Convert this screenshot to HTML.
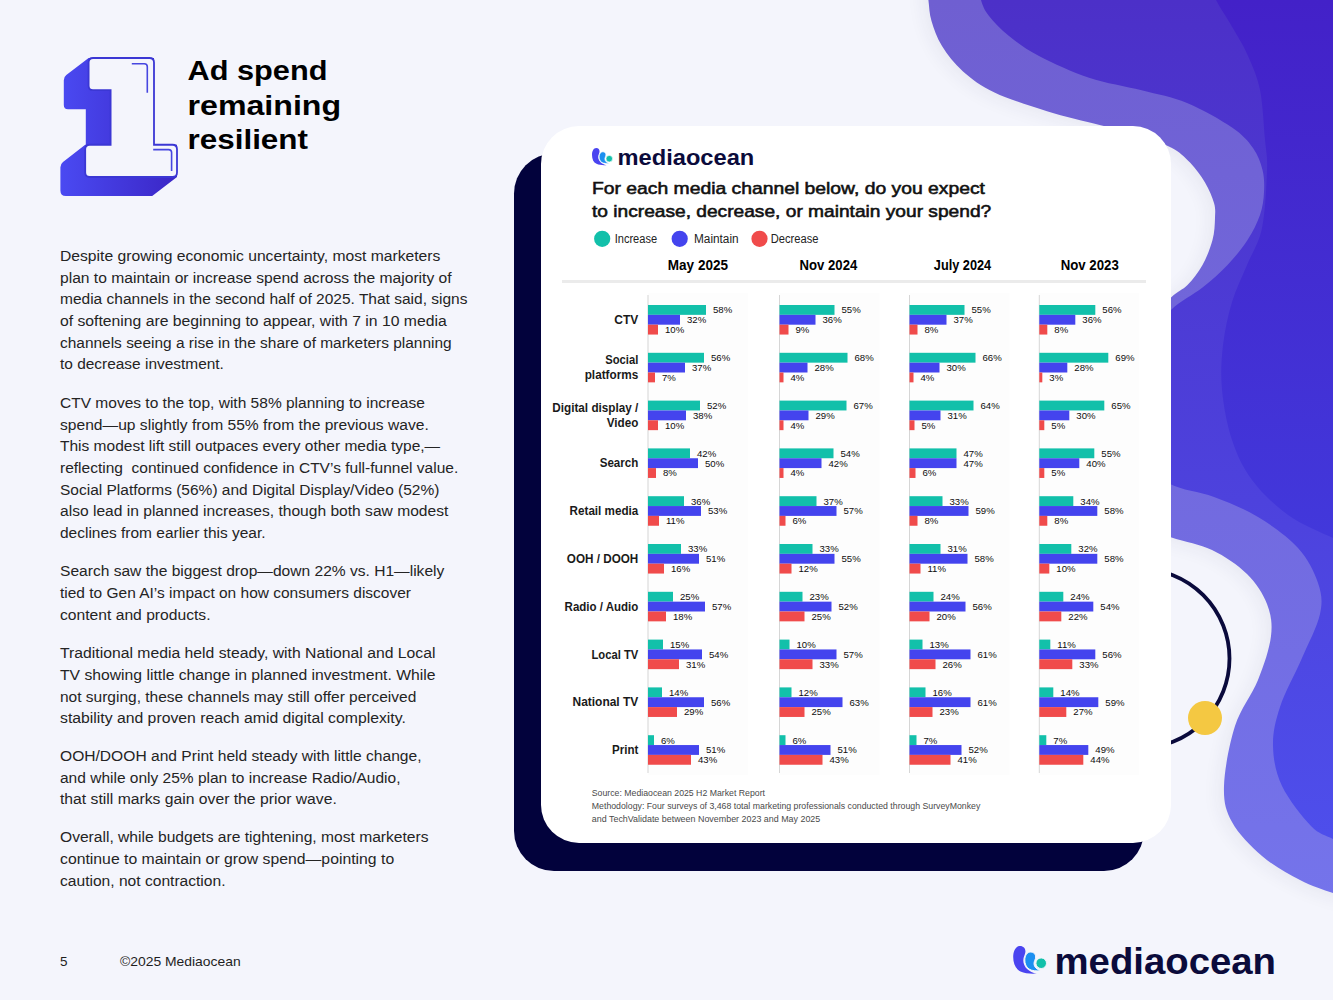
<!DOCTYPE html>
<html><head><meta charset="utf-8"><title>Ad spend remaining resilient</title>
<style>
html,body{margin:0;padding:0;}
body{width:1333px;height:1000px;overflow:hidden;background:#f4f5fc;}
svg{display:block;font-family:"Liberation Sans", sans-serif;}
</style></head><body>
<svg width="1333" height="1000" viewBox="0 0 1333 1000">
<rect width="1333" height="1000" fill="#f4f5fc"/>

<defs>
<linearGradient id="gL" x1="0" y1="0" x2="0" y2="1000" gradientUnits="userSpaceOnUse">
<stop offset="0" stop-color="#6f5fd1"/><stop offset="1" stop-color="#7576ee"/></linearGradient>
<linearGradient id="gM" x1="0" y1="0" x2="0" y2="1000" gradientUnits="userSpaceOnUse">
<stop offset="0" stop-color="#4c30c8"/><stop offset="1" stop-color="#4e54f2"/></linearGradient>
<linearGradient id="gI" x1="0" y1="0" x2="0" y2="560" gradientUnits="userSpaceOnUse">
<stop offset="0" stop-color="#4321c8"/><stop offset="1" stop-color="#4239dc"/></linearGradient>
<linearGradient id="g1" x1="60" y1="0" x2="177" y2="0" gradientUnits="userSpaceOnUse">
<stop offset="0" stop-color="#4a4af2"/><stop offset="1" stop-color="#3b26c6"/></linearGradient>
<filter id="blobsh" x="-20%" y="-20%" width="140%" height="140%"><feGaussianBlur stdDeviation="9"/></filter>
</defs>
<path d="M926.0,-20.0 C926.4,-16.7 927.5,-6.8 928.4,0.0 C929.3,6.8 929.2,13.3 931.5,21.0 C933.8,28.7 936.8,37.6 942.0,46.0 C947.2,54.4 954.2,63.7 963.0,71.4 C971.8,79.1 980.5,85.8 994.5,92.4 C1008.5,99.1 1029.5,105.9 1047.0,111.3 C1064.5,116.7 1084.9,121.4 1099.6,125.0 C1114.3,128.6 1123.1,129.2 1135.0,133.0 C1146.9,136.8 1161.8,142.6 1171.0,147.5 C1180.2,152.4 1184.3,156.7 1190.0,162.5 C1195.7,168.3 1201.0,175.8 1205.0,182.5 C1209.0,189.2 1212.3,197.1 1214.0,203.0 C1215.7,208.9 1215.2,211.8 1215.0,218.0 C1214.8,224.2 1214.6,232.2 1212.5,240.0 C1210.4,247.8 1206.7,257.5 1202.5,265.0 C1198.3,272.5 1192.8,279.6 1187.5,285.0 C1182.2,290.4 1178.9,290.0 1171.0,297.5 C1163.1,305.0 1149.8,309.6 1140.0,330.0 C1130.2,350.4 1117.0,389.2 1112.0,420.0 C1107.0,450.8 1100.3,495.5 1110.0,515.0 C1119.7,534.5 1153.0,531.2 1170.0,537.0 C1187.0,542.8 1199.2,543.8 1212.0,550.0 C1224.8,556.2 1237.8,565.0 1247.0,574.0 C1256.2,583.0 1263.0,593.7 1267.0,604.0 C1271.0,614.3 1272.5,623.3 1271.0,636.0 C1269.5,648.7 1264.0,665.0 1258.0,680.0 C1252.0,695.0 1240.7,708.3 1235.0,726.0 C1229.3,743.7 1224.5,770.0 1224.0,786.0 C1223.5,802.0 1225.7,810.3 1232.0,822.0 C1238.3,833.7 1250.7,846.3 1262.0,856.0 C1273.3,865.7 1288.2,873.8 1300.0,880.0 C1311.8,886.2 1323.0,889.8 1333.0,893.0 C1343.0,896.2 1355.5,898.0 1360.0,899.0 L1400,899 L1400,-30 Z" fill="#202050" opacity="0.06" filter="url(#blobsh)" transform="translate(-5,3)"/>
<path d="M926.0,-20.0 C926.4,-16.7 927.5,-6.8 928.4,0.0 C929.3,6.8 929.2,13.3 931.5,21.0 C933.8,28.7 936.8,37.6 942.0,46.0 C947.2,54.4 954.2,63.7 963.0,71.4 C971.8,79.1 980.5,85.8 994.5,92.4 C1008.5,99.1 1029.5,105.9 1047.0,111.3 C1064.5,116.7 1084.9,121.4 1099.6,125.0 C1114.3,128.6 1123.1,129.2 1135.0,133.0 C1146.9,136.8 1161.8,142.6 1171.0,147.5 C1180.2,152.4 1184.3,156.7 1190.0,162.5 C1195.7,168.3 1201.0,175.8 1205.0,182.5 C1209.0,189.2 1212.3,197.1 1214.0,203.0 C1215.7,208.9 1215.2,211.8 1215.0,218.0 C1214.8,224.2 1214.6,232.2 1212.5,240.0 C1210.4,247.8 1206.7,257.5 1202.5,265.0 C1198.3,272.5 1192.8,279.6 1187.5,285.0 C1182.2,290.4 1178.9,290.0 1171.0,297.5 C1163.1,305.0 1149.8,309.6 1140.0,330.0 C1130.2,350.4 1117.0,389.2 1112.0,420.0 C1107.0,450.8 1100.3,495.5 1110.0,515.0 C1119.7,534.5 1153.0,531.2 1170.0,537.0 C1187.0,542.8 1199.2,543.8 1212.0,550.0 C1224.8,556.2 1237.8,565.0 1247.0,574.0 C1256.2,583.0 1263.0,593.7 1267.0,604.0 C1271.0,614.3 1272.5,623.3 1271.0,636.0 C1269.5,648.7 1264.0,665.0 1258.0,680.0 C1252.0,695.0 1240.7,708.3 1235.0,726.0 C1229.3,743.7 1224.5,770.0 1224.0,786.0 C1223.5,802.0 1225.7,810.3 1232.0,822.0 C1238.3,833.7 1250.7,846.3 1262.0,856.0 C1273.3,865.7 1288.2,873.8 1300.0,880.0 C1311.8,886.2 1323.0,889.8 1333.0,893.0 C1343.0,896.2 1355.5,898.0 1360.0,899.0 L1400,899 L1400,-30 Z" fill="url(#gL)"/>
<path d="M978.0,-20.0 C978.5,-16.7 979.2,-6.0 981.0,0.0 C982.8,6.0 984.3,10.0 989.0,16.0 C993.7,22.0 1000.7,29.3 1009.0,36.0 C1017.3,42.7 1025.7,49.0 1039.0,56.0 C1052.3,63.0 1071.9,72.0 1089.0,77.7 C1106.1,83.4 1125.3,86.1 1141.6,90.3 C1157.9,94.5 1171.9,96.8 1187.0,103.0 C1202.1,109.2 1221.0,120.0 1232.0,127.5 C1243.0,135.0 1247.9,140.9 1253.0,148.0 C1258.1,155.1 1260.7,162.7 1262.5,170.0 C1264.3,177.3 1264.4,184.5 1264.0,192.0 C1263.6,199.5 1262.8,207.0 1260.0,215.0 C1257.2,223.0 1252.9,231.7 1247.5,240.0 C1242.1,248.3 1235.0,257.1 1227.5,265.0 C1220.0,272.9 1211.9,280.0 1202.5,287.5 C1193.1,295.0 1180.6,300.4 1171.0,310.0 C1161.4,319.6 1151.0,328.3 1145.0,345.0 C1139.0,361.7 1135.0,390.8 1135.0,410.0 C1135.0,429.2 1139.2,447.7 1145.0,460.0 C1150.8,472.3 1158.5,477.8 1170.0,484.0 C1181.5,490.2 1199.3,491.5 1214.0,497.0 C1228.7,502.5 1244.0,508.5 1258.0,517.0 C1272.0,525.5 1288.0,537.0 1298.0,548.0 C1308.0,559.0 1314.3,572.0 1318.0,583.0 C1321.7,594.0 1322.7,601.5 1320.0,614.0 C1317.3,626.5 1308.7,642.5 1302.0,658.0 C1295.3,673.5 1284.8,692.3 1280.0,707.0 C1275.2,721.7 1272.7,732.8 1273.0,746.0 C1273.3,759.2 1275.7,772.7 1282.0,786.0 C1288.3,799.3 1302.5,817.2 1311.0,826.0 C1319.5,834.8 1324.8,834.7 1333.0,839.0 C1341.2,843.3 1355.5,849.8 1360.0,852.0 L1400,852 L1400,-30 Z" fill="url(#gM)"/>
<path d="M1208.0,-20.0 C1209.3,-16.7 1211.7,-8.3 1216.0,0.0 C1220.3,8.3 1228.7,20.7 1234.0,30.0 C1239.3,39.3 1243.7,46.0 1248.0,56.0 C1252.3,66.0 1257.2,76.0 1260.0,90.0 C1262.8,104.0 1263.8,126.7 1265.0,140.0 C1266.2,153.3 1267.5,155.3 1267.0,170.0 C1266.5,184.7 1265.3,212.2 1262.0,228.0 C1258.7,243.8 1252.0,252.7 1247.0,265.0 C1242.0,277.3 1236.0,288.7 1232.0,302.0 C1228.0,315.3 1224.7,330.3 1223.0,345.0 C1221.3,359.7 1220.5,374.2 1222.0,390.0 C1223.5,405.8 1227.0,425.0 1232.0,440.0 C1237.0,455.0 1242.7,467.5 1252.0,480.0 C1261.3,492.5 1274.5,505.3 1288.0,515.0 C1301.5,524.7 1321.0,532.5 1333.0,538.0 C1345.0,543.5 1355.5,546.3 1360.0,548.0 L1400,548 L1400,-30 Z" fill="url(#gI)"/>


<circle cx="1140" cy="658.5" r="89.5" fill="none" stroke="#0a0a3c" stroke-width="3.8"/>
<circle cx="1205" cy="718" r="17" fill="#f4c842"/>


<rect x="514" y="153.5" width="630" height="717.5" rx="40" fill="#02023c"/>
<rect x="541" y="126" width="630" height="717" rx="38" fill="#ffffff"/>
<g transform="translate(588.8,144.4) scale(0.617)">
<path d="M28.8,33.6 C23,34 17,33.6 12.5,31.5 C7.5,29 5.2,23.5 5.2,17 C5.2,10.5 8,6 12,6 C15.6,6 17.7,8.6 17.4,12 C17.1,14.8 15.3,16.8 15.3,20.5 C15.3,27 21,32.2 28.8,33.6 Z" fill="#4a44f0"/>
<path d="M33.2,30.6 C29,31.2 24,31 21,29 C18,27 16.8,23.5 16.8,20 C16.8,15.5 19.3,12 22.8,12 C25.7,12 27.8,14.3 27.7,17 C27.6,19.5 26,21 26,23.5 C26,27 29,29.8 33.2,30.6 Z" fill="#1c8ff0" stroke="#ffffff" stroke-width="1"/>
<circle cx="33.2" cy="23.2" r="5.3" fill="#12c0aa" stroke="#ffffff" stroke-width="1"/>
</g><text x="617.5" y="164.6" font-size="22.5" font-weight="bold" fill="#0b0b3b" textLength="136.8" lengthAdjust="spacingAndGlyphs">mediaocean</text>
<text x="592" y="193.8" font-size="16.4" fill="#111" textLength="393.0" lengthAdjust="spacingAndGlyphs" stroke="#111" stroke-width="0.55">For each media channel below, do you expect</text>
<text x="592" y="216.8" font-size="16.4" fill="#111" textLength="399.2" lengthAdjust="spacingAndGlyphs" stroke="#111" stroke-width="0.55">to increase, decrease, or maintain your spend?</text>
<circle cx="602.2" cy="238.8" r="8.1" fill="#12c0aa"/><circle cx="679.7" cy="238.8" r="8.1" fill="#4444ee"/><circle cx="759.5" cy="238.8" r="8.1" fill="#f04b4b"/><text x="614.7" y="243.1" font-size="12" fill="#222" textLength="42.4" lengthAdjust="spacingAndGlyphs">Increase</text>
<text x="694" y="243.1" font-size="12" fill="#222" textLength="44.6" lengthAdjust="spacingAndGlyphs">Maintain</text>
<text x="770.8" y="243.1" font-size="12" fill="#222" textLength="47.7" lengthAdjust="spacingAndGlyphs">Decrease</text>
<text x="667.8" y="270" font-size="13.8" font-weight="bold" fill="#000" textLength="60.2" lengthAdjust="spacingAndGlyphs">May 2025</text>
<text x="799.6" y="270" font-size="13.8" font-weight="bold" fill="#000" textLength="57.7" lengthAdjust="spacingAndGlyphs">Nov 2024</text>
<text x="933.8" y="270" font-size="13.8" font-weight="bold" fill="#000" textLength="57.4" lengthAdjust="spacingAndGlyphs">July 2024</text>
<text x="1060.7" y="270" font-size="13.8" font-weight="bold" fill="#000" textLength="58.1" lengthAdjust="spacingAndGlyphs">Nov 2023</text>
<rect x="562" y="280" width="584" height="3" fill="#ebebeb"/>

<rect x="648" y="293" width="100" height="482" fill="#fdfdfd"/>
<rect x="779.5" y="293" width="100" height="482" fill="#fdfdfd"/>
<rect x="909.5" y="293" width="100" height="482" fill="#fdfdfd"/>
<rect x="1039.3" y="293" width="100" height="482" fill="#fdfdfd"/>
<rect x="647.5" y="295" width="1" height="478" fill="#d6d6d6"/>
<rect x="648" y="305.00" width="58" height="9.85" fill="#12c0aa"/><text x="713" y="313.3" font-size="9.6" fill="#0d0d0d">58%</text>
<rect x="648" y="314.85" width="32" height="9.85" fill="#4444ee"/><text x="687" y="323.2" font-size="9.6" fill="#0d0d0d">32%</text>
<rect x="648" y="324.70" width="10" height="9.85" fill="#f04b4b"/><text x="665" y="333.0" font-size="9.6" fill="#0d0d0d">10%</text>
<rect x="648" y="352.80" width="56" height="9.85" fill="#12c0aa"/><text x="711" y="361.1" font-size="9.6" fill="#0d0d0d">56%</text>
<rect x="648" y="362.65" width="37" height="9.85" fill="#4444ee"/><text x="692" y="371.0" font-size="9.6" fill="#0d0d0d">37%</text>
<rect x="648" y="372.50" width="7" height="9.85" fill="#f04b4b"/><text x="662" y="380.8" font-size="9.6" fill="#0d0d0d">7%</text>
<rect x="648" y="400.60" width="52" height="9.85" fill="#12c0aa"/><text x="707" y="408.9" font-size="9.6" fill="#0d0d0d">52%</text>
<rect x="648" y="410.45" width="38" height="9.85" fill="#4444ee"/><text x="693" y="418.8" font-size="9.6" fill="#0d0d0d">38%</text>
<rect x="648" y="420.30" width="10" height="9.85" fill="#f04b4b"/><text x="665" y="428.6" font-size="9.6" fill="#0d0d0d">10%</text>
<rect x="648" y="448.40" width="42" height="9.85" fill="#12c0aa"/><text x="697" y="456.7" font-size="9.6" fill="#0d0d0d">42%</text>
<rect x="648" y="458.25" width="50" height="9.85" fill="#4444ee"/><text x="705" y="466.6" font-size="9.6" fill="#0d0d0d">50%</text>
<rect x="648" y="468.10" width="8" height="9.85" fill="#f04b4b"/><text x="663" y="476.4" font-size="9.6" fill="#0d0d0d">8%</text>
<rect x="648" y="496.20" width="36" height="9.85" fill="#12c0aa"/><text x="691" y="504.5" font-size="9.6" fill="#0d0d0d">36%</text>
<rect x="648" y="506.05" width="53" height="9.85" fill="#4444ee"/><text x="708" y="514.4" font-size="9.6" fill="#0d0d0d">53%</text>
<rect x="648" y="515.90" width="11" height="9.85" fill="#f04b4b"/><text x="666" y="524.2" font-size="9.6" fill="#0d0d0d">11%</text>
<rect x="648" y="544.00" width="33" height="9.85" fill="#12c0aa"/><text x="688" y="552.3" font-size="9.6" fill="#0d0d0d">33%</text>
<rect x="648" y="553.85" width="51" height="9.85" fill="#4444ee"/><text x="706" y="562.1" font-size="9.6" fill="#0d0d0d">51%</text>
<rect x="648" y="563.70" width="16" height="9.85" fill="#f04b4b"/><text x="671" y="572.0" font-size="9.6" fill="#0d0d0d">16%</text>
<rect x="648" y="591.80" width="25" height="9.85" fill="#12c0aa"/><text x="680" y="600.1" font-size="9.6" fill="#0d0d0d">25%</text>
<rect x="648" y="601.65" width="57" height="9.85" fill="#4444ee"/><text x="712" y="609.9" font-size="9.6" fill="#0d0d0d">57%</text>
<rect x="648" y="611.50" width="18" height="9.85" fill="#f04b4b"/><text x="673" y="619.8" font-size="9.6" fill="#0d0d0d">18%</text>
<rect x="648" y="639.60" width="15" height="9.85" fill="#12c0aa"/><text x="670" y="647.9" font-size="9.6" fill="#0d0d0d">15%</text>
<rect x="648" y="649.45" width="54" height="9.85" fill="#4444ee"/><text x="709" y="657.7" font-size="9.6" fill="#0d0d0d">54%</text>
<rect x="648" y="659.30" width="31" height="9.85" fill="#f04b4b"/><text x="686" y="667.6" font-size="9.6" fill="#0d0d0d">31%</text>
<rect x="648" y="687.40" width="14" height="9.85" fill="#12c0aa"/><text x="669" y="695.7" font-size="9.6" fill="#0d0d0d">14%</text>
<rect x="648" y="697.25" width="56" height="9.85" fill="#4444ee"/><text x="711" y="705.5" font-size="9.6" fill="#0d0d0d">56%</text>
<rect x="648" y="707.10" width="29" height="9.85" fill="#f04b4b"/><text x="684" y="715.4" font-size="9.6" fill="#0d0d0d">29%</text>
<rect x="648" y="735.20" width="6" height="9.85" fill="#12c0aa"/><text x="661" y="743.5" font-size="9.6" fill="#0d0d0d">6%</text>
<rect x="648" y="745.05" width="51" height="9.85" fill="#4444ee"/><text x="706" y="753.4" font-size="9.6" fill="#0d0d0d">51%</text>
<rect x="648" y="754.90" width="43" height="9.85" fill="#f04b4b"/><text x="698" y="763.2" font-size="9.6" fill="#0d0d0d">43%</text>
<rect x="779.0" y="295" width="1" height="478" fill="#d6d6d6"/>
<rect x="779.5" y="305.00" width="55" height="9.85" fill="#12c0aa"/><text x="841.5" y="313.3" font-size="9.6" fill="#0d0d0d">55%</text>
<rect x="779.5" y="314.85" width="36" height="9.85" fill="#4444ee"/><text x="822.5" y="323.2" font-size="9.6" fill="#0d0d0d">36%</text>
<rect x="779.5" y="324.70" width="9" height="9.85" fill="#f04b4b"/><text x="795.5" y="333.0" font-size="9.6" fill="#0d0d0d">9%</text>
<rect x="779.5" y="352.80" width="68" height="9.85" fill="#12c0aa"/><text x="854.5" y="361.1" font-size="9.6" fill="#0d0d0d">68%</text>
<rect x="779.5" y="362.65" width="28" height="9.85" fill="#4444ee"/><text x="814.5" y="371.0" font-size="9.6" fill="#0d0d0d">28%</text>
<rect x="779.5" y="372.50" width="4" height="9.85" fill="#f04b4b"/><text x="790.5" y="380.8" font-size="9.6" fill="#0d0d0d">4%</text>
<rect x="779.5" y="400.60" width="67" height="9.85" fill="#12c0aa"/><text x="853.5" y="408.9" font-size="9.6" fill="#0d0d0d">67%</text>
<rect x="779.5" y="410.45" width="29" height="9.85" fill="#4444ee"/><text x="815.5" y="418.8" font-size="9.6" fill="#0d0d0d">29%</text>
<rect x="779.5" y="420.30" width="4" height="9.85" fill="#f04b4b"/><text x="790.5" y="428.6" font-size="9.6" fill="#0d0d0d">4%</text>
<rect x="779.5" y="448.40" width="54" height="9.85" fill="#12c0aa"/><text x="840.5" y="456.7" font-size="9.6" fill="#0d0d0d">54%</text>
<rect x="779.5" y="458.25" width="42" height="9.85" fill="#4444ee"/><text x="828.5" y="466.6" font-size="9.6" fill="#0d0d0d">42%</text>
<rect x="779.5" y="468.10" width="4" height="9.85" fill="#f04b4b"/><text x="790.5" y="476.4" font-size="9.6" fill="#0d0d0d">4%</text>
<rect x="779.5" y="496.20" width="37" height="9.85" fill="#12c0aa"/><text x="823.5" y="504.5" font-size="9.6" fill="#0d0d0d">37%</text>
<rect x="779.5" y="506.05" width="57" height="9.85" fill="#4444ee"/><text x="843.5" y="514.4" font-size="9.6" fill="#0d0d0d">57%</text>
<rect x="779.5" y="515.90" width="6" height="9.85" fill="#f04b4b"/><text x="792.5" y="524.2" font-size="9.6" fill="#0d0d0d">6%</text>
<rect x="779.5" y="544.00" width="33" height="9.85" fill="#12c0aa"/><text x="819.5" y="552.3" font-size="9.6" fill="#0d0d0d">33%</text>
<rect x="779.5" y="553.85" width="55" height="9.85" fill="#4444ee"/><text x="841.5" y="562.1" font-size="9.6" fill="#0d0d0d">55%</text>
<rect x="779.5" y="563.70" width="12" height="9.85" fill="#f04b4b"/><text x="798.5" y="572.0" font-size="9.6" fill="#0d0d0d">12%</text>
<rect x="779.5" y="591.80" width="23" height="9.85" fill="#12c0aa"/><text x="809.5" y="600.1" font-size="9.6" fill="#0d0d0d">23%</text>
<rect x="779.5" y="601.65" width="52" height="9.85" fill="#4444ee"/><text x="838.5" y="609.9" font-size="9.6" fill="#0d0d0d">52%</text>
<rect x="779.5" y="611.50" width="25" height="9.85" fill="#f04b4b"/><text x="811.5" y="619.8" font-size="9.6" fill="#0d0d0d">25%</text>
<rect x="779.5" y="639.60" width="10" height="9.85" fill="#12c0aa"/><text x="796.5" y="647.9" font-size="9.6" fill="#0d0d0d">10%</text>
<rect x="779.5" y="649.45" width="57" height="9.85" fill="#4444ee"/><text x="843.5" y="657.7" font-size="9.6" fill="#0d0d0d">57%</text>
<rect x="779.5" y="659.30" width="33" height="9.85" fill="#f04b4b"/><text x="819.5" y="667.6" font-size="9.6" fill="#0d0d0d">33%</text>
<rect x="779.5" y="687.40" width="12" height="9.85" fill="#12c0aa"/><text x="798.5" y="695.7" font-size="9.6" fill="#0d0d0d">12%</text>
<rect x="779.5" y="697.25" width="63" height="9.85" fill="#4444ee"/><text x="849.5" y="705.5" font-size="9.6" fill="#0d0d0d">63%</text>
<rect x="779.5" y="707.10" width="25" height="9.85" fill="#f04b4b"/><text x="811.5" y="715.4" font-size="9.6" fill="#0d0d0d">25%</text>
<rect x="779.5" y="735.20" width="6" height="9.85" fill="#12c0aa"/><text x="792.5" y="743.5" font-size="9.6" fill="#0d0d0d">6%</text>
<rect x="779.5" y="745.05" width="51" height="9.85" fill="#4444ee"/><text x="837.5" y="753.4" font-size="9.6" fill="#0d0d0d">51%</text>
<rect x="779.5" y="754.90" width="43" height="9.85" fill="#f04b4b"/><text x="829.5" y="763.2" font-size="9.6" fill="#0d0d0d">43%</text>
<rect x="909.0" y="295" width="1" height="478" fill="#d6d6d6"/>
<rect x="909.5" y="305.00" width="55" height="9.85" fill="#12c0aa"/><text x="971.5" y="313.3" font-size="9.6" fill="#0d0d0d">55%</text>
<rect x="909.5" y="314.85" width="37" height="9.85" fill="#4444ee"/><text x="953.5" y="323.2" font-size="9.6" fill="#0d0d0d">37%</text>
<rect x="909.5" y="324.70" width="8" height="9.85" fill="#f04b4b"/><text x="924.5" y="333.0" font-size="9.6" fill="#0d0d0d">8%</text>
<rect x="909.5" y="352.80" width="66" height="9.85" fill="#12c0aa"/><text x="982.5" y="361.1" font-size="9.6" fill="#0d0d0d">66%</text>
<rect x="909.5" y="362.65" width="30" height="9.85" fill="#4444ee"/><text x="946.5" y="371.0" font-size="9.6" fill="#0d0d0d">30%</text>
<rect x="909.5" y="372.50" width="4" height="9.85" fill="#f04b4b"/><text x="920.5" y="380.8" font-size="9.6" fill="#0d0d0d">4%</text>
<rect x="909.5" y="400.60" width="64" height="9.85" fill="#12c0aa"/><text x="980.5" y="408.9" font-size="9.6" fill="#0d0d0d">64%</text>
<rect x="909.5" y="410.45" width="31" height="9.85" fill="#4444ee"/><text x="947.5" y="418.8" font-size="9.6" fill="#0d0d0d">31%</text>
<rect x="909.5" y="420.30" width="5" height="9.85" fill="#f04b4b"/><text x="921.5" y="428.6" font-size="9.6" fill="#0d0d0d">5%</text>
<rect x="909.5" y="448.40" width="47" height="9.85" fill="#12c0aa"/><text x="963.5" y="456.7" font-size="9.6" fill="#0d0d0d">47%</text>
<rect x="909.5" y="458.25" width="47" height="9.85" fill="#4444ee"/><text x="963.5" y="466.6" font-size="9.6" fill="#0d0d0d">47%</text>
<rect x="909.5" y="468.10" width="6" height="9.85" fill="#f04b4b"/><text x="922.5" y="476.4" font-size="9.6" fill="#0d0d0d">6%</text>
<rect x="909.5" y="496.20" width="33" height="9.85" fill="#12c0aa"/><text x="949.5" y="504.5" font-size="9.6" fill="#0d0d0d">33%</text>
<rect x="909.5" y="506.05" width="59" height="9.85" fill="#4444ee"/><text x="975.5" y="514.4" font-size="9.6" fill="#0d0d0d">59%</text>
<rect x="909.5" y="515.90" width="8" height="9.85" fill="#f04b4b"/><text x="924.5" y="524.2" font-size="9.6" fill="#0d0d0d">8%</text>
<rect x="909.5" y="544.00" width="31" height="9.85" fill="#12c0aa"/><text x="947.5" y="552.3" font-size="9.6" fill="#0d0d0d">31%</text>
<rect x="909.5" y="553.85" width="58" height="9.85" fill="#4444ee"/><text x="974.5" y="562.1" font-size="9.6" fill="#0d0d0d">58%</text>
<rect x="909.5" y="563.70" width="11" height="9.85" fill="#f04b4b"/><text x="927.5" y="572.0" font-size="9.6" fill="#0d0d0d">11%</text>
<rect x="909.5" y="591.80" width="24" height="9.85" fill="#12c0aa"/><text x="940.5" y="600.1" font-size="9.6" fill="#0d0d0d">24%</text>
<rect x="909.5" y="601.65" width="56" height="9.85" fill="#4444ee"/><text x="972.5" y="609.9" font-size="9.6" fill="#0d0d0d">56%</text>
<rect x="909.5" y="611.50" width="20" height="9.85" fill="#f04b4b"/><text x="936.5" y="619.8" font-size="9.6" fill="#0d0d0d">20%</text>
<rect x="909.5" y="639.60" width="13" height="9.85" fill="#12c0aa"/><text x="929.5" y="647.9" font-size="9.6" fill="#0d0d0d">13%</text>
<rect x="909.5" y="649.45" width="61" height="9.85" fill="#4444ee"/><text x="977.5" y="657.7" font-size="9.6" fill="#0d0d0d">61%</text>
<rect x="909.5" y="659.30" width="26" height="9.85" fill="#f04b4b"/><text x="942.5" y="667.6" font-size="9.6" fill="#0d0d0d">26%</text>
<rect x="909.5" y="687.40" width="16" height="9.85" fill="#12c0aa"/><text x="932.5" y="695.7" font-size="9.6" fill="#0d0d0d">16%</text>
<rect x="909.5" y="697.25" width="61" height="9.85" fill="#4444ee"/><text x="977.5" y="705.5" font-size="9.6" fill="#0d0d0d">61%</text>
<rect x="909.5" y="707.10" width="23" height="9.85" fill="#f04b4b"/><text x="939.5" y="715.4" font-size="9.6" fill="#0d0d0d">23%</text>
<rect x="909.5" y="735.20" width="7" height="9.85" fill="#12c0aa"/><text x="923.5" y="743.5" font-size="9.6" fill="#0d0d0d">7%</text>
<rect x="909.5" y="745.05" width="52" height="9.85" fill="#4444ee"/><text x="968.5" y="753.4" font-size="9.6" fill="#0d0d0d">52%</text>
<rect x="909.5" y="754.90" width="41" height="9.85" fill="#f04b4b"/><text x="957.5" y="763.2" font-size="9.6" fill="#0d0d0d">41%</text>
<rect x="1038.8" y="295" width="1" height="478" fill="#d6d6d6"/>
<rect x="1039.3" y="305.00" width="56" height="9.85" fill="#12c0aa"/><text x="1102.3" y="313.3" font-size="9.6" fill="#0d0d0d">56%</text>
<rect x="1039.3" y="314.85" width="36" height="9.85" fill="#4444ee"/><text x="1082.3" y="323.2" font-size="9.6" fill="#0d0d0d">36%</text>
<rect x="1039.3" y="324.70" width="8" height="9.85" fill="#f04b4b"/><text x="1054.3" y="333.0" font-size="9.6" fill="#0d0d0d">8%</text>
<rect x="1039.3" y="352.80" width="69" height="9.85" fill="#12c0aa"/><text x="1115.3" y="361.1" font-size="9.6" fill="#0d0d0d">69%</text>
<rect x="1039.3" y="362.65" width="28" height="9.85" fill="#4444ee"/><text x="1074.3" y="371.0" font-size="9.6" fill="#0d0d0d">28%</text>
<rect x="1039.3" y="372.50" width="3" height="9.85" fill="#f04b4b"/><text x="1049.3" y="380.8" font-size="9.6" fill="#0d0d0d">3%</text>
<rect x="1039.3" y="400.60" width="65" height="9.85" fill="#12c0aa"/><text x="1111.3" y="408.9" font-size="9.6" fill="#0d0d0d">65%</text>
<rect x="1039.3" y="410.45" width="30" height="9.85" fill="#4444ee"/><text x="1076.3" y="418.8" font-size="9.6" fill="#0d0d0d">30%</text>
<rect x="1039.3" y="420.30" width="5" height="9.85" fill="#f04b4b"/><text x="1051.3" y="428.6" font-size="9.6" fill="#0d0d0d">5%</text>
<rect x="1039.3" y="448.40" width="55" height="9.85" fill="#12c0aa"/><text x="1101.3" y="456.7" font-size="9.6" fill="#0d0d0d">55%</text>
<rect x="1039.3" y="458.25" width="40" height="9.85" fill="#4444ee"/><text x="1086.3" y="466.6" font-size="9.6" fill="#0d0d0d">40%</text>
<rect x="1039.3" y="468.10" width="5" height="9.85" fill="#f04b4b"/><text x="1051.3" y="476.4" font-size="9.6" fill="#0d0d0d">5%</text>
<rect x="1039.3" y="496.20" width="34" height="9.85" fill="#12c0aa"/><text x="1080.3" y="504.5" font-size="9.6" fill="#0d0d0d">34%</text>
<rect x="1039.3" y="506.05" width="58" height="9.85" fill="#4444ee"/><text x="1104.3" y="514.4" font-size="9.6" fill="#0d0d0d">58%</text>
<rect x="1039.3" y="515.90" width="8" height="9.85" fill="#f04b4b"/><text x="1054.3" y="524.2" font-size="9.6" fill="#0d0d0d">8%</text>
<rect x="1039.3" y="544.00" width="32" height="9.85" fill="#12c0aa"/><text x="1078.3" y="552.3" font-size="9.6" fill="#0d0d0d">32%</text>
<rect x="1039.3" y="553.85" width="58" height="9.85" fill="#4444ee"/><text x="1104.3" y="562.1" font-size="9.6" fill="#0d0d0d">58%</text>
<rect x="1039.3" y="563.70" width="10" height="9.85" fill="#f04b4b"/><text x="1056.3" y="572.0" font-size="9.6" fill="#0d0d0d">10%</text>
<rect x="1039.3" y="591.80" width="24" height="9.85" fill="#12c0aa"/><text x="1070.3" y="600.1" font-size="9.6" fill="#0d0d0d">24%</text>
<rect x="1039.3" y="601.65" width="54" height="9.85" fill="#4444ee"/><text x="1100.3" y="609.9" font-size="9.6" fill="#0d0d0d">54%</text>
<rect x="1039.3" y="611.50" width="22" height="9.85" fill="#f04b4b"/><text x="1068.3" y="619.8" font-size="9.6" fill="#0d0d0d">22%</text>
<rect x="1039.3" y="639.60" width="11" height="9.85" fill="#12c0aa"/><text x="1057.3" y="647.9" font-size="9.6" fill="#0d0d0d">11%</text>
<rect x="1039.3" y="649.45" width="56" height="9.85" fill="#4444ee"/><text x="1102.3" y="657.7" font-size="9.6" fill="#0d0d0d">56%</text>
<rect x="1039.3" y="659.30" width="33" height="9.85" fill="#f04b4b"/><text x="1079.3" y="667.6" font-size="9.6" fill="#0d0d0d">33%</text>
<rect x="1039.3" y="687.40" width="14" height="9.85" fill="#12c0aa"/><text x="1060.3" y="695.7" font-size="9.6" fill="#0d0d0d">14%</text>
<rect x="1039.3" y="697.25" width="59" height="9.85" fill="#4444ee"/><text x="1105.3" y="705.5" font-size="9.6" fill="#0d0d0d">59%</text>
<rect x="1039.3" y="707.10" width="27" height="9.85" fill="#f04b4b"/><text x="1073.3" y="715.4" font-size="9.6" fill="#0d0d0d">27%</text>
<rect x="1039.3" y="735.20" width="7" height="9.85" fill="#12c0aa"/><text x="1053.3" y="743.5" font-size="9.6" fill="#0d0d0d">7%</text>
<rect x="1039.3" y="745.05" width="49" height="9.85" fill="#4444ee"/><text x="1095.3" y="753.4" font-size="9.6" fill="#0d0d0d">49%</text>
<rect x="1039.3" y="754.90" width="44" height="9.85" fill="#f04b4b"/><text x="1090.3" y="763.2" font-size="9.6" fill="#0d0d0d">44%</text>
<text x="614.3" y="324.0" font-size="12" font-weight="bold" fill="#1a1a1a" textLength="24.0" lengthAdjust="spacingAndGlyphs">CTV</text>
<text x="605.3" y="364.3" font-size="12" font-weight="bold" fill="#1a1a1a" textLength="33.0" lengthAdjust="spacingAndGlyphs">Social</text>
<text x="584.7" y="379.3" font-size="12" font-weight="bold" fill="#1a1a1a" textLength="53.6" lengthAdjust="spacingAndGlyphs">platforms</text>
<text x="552.3" y="412.1" font-size="12" font-weight="bold" fill="#1a1a1a" textLength="86.0" lengthAdjust="spacingAndGlyphs">Digital display /</text>
<text x="606.7" y="427.1" font-size="12" font-weight="bold" fill="#1a1a1a" textLength="31.6" lengthAdjust="spacingAndGlyphs">Video</text>
<text x="599.7" y="467.4" font-size="12" font-weight="bold" fill="#1a1a1a" textLength="38.6" lengthAdjust="spacingAndGlyphs">Search</text>
<text x="569.6" y="515.2" font-size="12" font-weight="bold" fill="#1a1a1a" textLength="68.7" lengthAdjust="spacingAndGlyphs">Retail media</text>
<text x="566.8" y="563.0" font-size="12" font-weight="bold" fill="#1a1a1a" textLength="71.5" lengthAdjust="spacingAndGlyphs">OOH / DOOH</text>
<text x="564.6" y="610.8" font-size="12" font-weight="bold" fill="#1a1a1a" textLength="73.7" lengthAdjust="spacingAndGlyphs">Radio / Audio</text>
<text x="591.5" y="658.6" font-size="12" font-weight="bold" fill="#1a1a1a" textLength="46.8" lengthAdjust="spacingAndGlyphs">Local TV</text>
<text x="572.5" y="706.4" font-size="12" font-weight="bold" fill="#1a1a1a" textLength="65.8" lengthAdjust="spacingAndGlyphs">National TV</text>
<text x="612.0" y="754.2" font-size="12" font-weight="bold" fill="#1a1a1a" textLength="26.3" lengthAdjust="spacingAndGlyphs">Print</text>

<text x="591.8" y="796" font-size="8.6" fill="#4a4a4a" textLength="173.2" lengthAdjust="spacingAndGlyphs">Source: Mediaocean 2025 H2 Market Report</text>
<text x="591.8" y="809.2" font-size="8.6" fill="#4a4a4a" textLength="388.5" lengthAdjust="spacingAndGlyphs">Methodology: Four surveys of 3,468 total marketing professionals conducted through SurveyMonkey</text>
<text x="591.8" y="822.1" font-size="8.6" fill="#4a4a4a" textLength="228.5" lengthAdjust="spacingAndGlyphs">and TechValidate between November 2023 and May 2025</text>


<path d="M88.6,58 L66.3,75.1 Q63.8,77 63.8,80.2 L63.8,105 Q63.8,109.2 68,109.2 L85.8,109.2 L85.8,144.75 L85.2,144.75 L63,162 Q60.4,164 60.4,167.3 L60.4,190.5 Q60.4,196 65.9,196 L152.2,196 L177,177 L177,144.75 L154,144.75 L154,58 Z" fill="url(#g1)"/>
<path d="M93,58 L149.5,58 Q154,58 154,62.5 L154,144.75 L172.5,144.75 Q177,144.75 177,149.25 L177,172.5 Q177,177 172.5,177 L89.7,177 Q85.2,177 85.2,172.5 L85.2,149.25 Q85.2,144.75 89.7,144.75 L110.6,144.75 L110.6,90.2 L93,90.2 Q88.6,90.2 88.6,85.8 L88.6,62.4 Q88.6,58 93,58 Z" fill="#f4f5fc" stroke="#3b37d4" stroke-width="1.8"/>
<path d="M131.8,63.8 L144.3,63.8 Q147.3,63.8 147.3,66.8 L147.3,92.7" fill="none" stroke="#4646e0" stroke-width="1.6"/>
<path d="M153.2,149.6 L168.6,149.6 Q171.6,149.6 171.6,152.6 L171.6,171" fill="none" stroke="#4646e0" stroke-width="1.6"/>

<text x="187.5" y="80" font-size="27.6" font-weight="bold" fill="#000" textLength="140.0" lengthAdjust="spacingAndGlyphs">Ad spend</text>
<text x="187.5" y="114.6" font-size="27.6" font-weight="bold" fill="#000" textLength="153.6" lengthAdjust="spacingAndGlyphs">remaining</text>
<text x="187.5" y="149.4" font-size="27.6" font-weight="bold" fill="#000" textLength="120.5" lengthAdjust="spacingAndGlyphs">resilient</text>

<text x="60" y="260.9" font-size="15.5" fill="#242424" textLength="380.4" lengthAdjust="spacingAndGlyphs">Despite growing economic uncertainty, most marketers</text>
<text x="60" y="282.6" font-size="15.5" fill="#242424" textLength="391.6" lengthAdjust="spacingAndGlyphs">plan to maintain or increase spend across the majority of</text>
<text x="60" y="304.3" font-size="15.5" fill="#242424" textLength="407.5" lengthAdjust="spacingAndGlyphs">media channels in the second half of 2025. That said, signs</text>
<text x="60" y="325.9" font-size="15.5" fill="#242424" textLength="386.7" lengthAdjust="spacingAndGlyphs">of softening are beginning to appear, with 7 in 10 media</text>
<text x="60" y="347.6" font-size="15.5" fill="#242424" textLength="391.6" lengthAdjust="spacingAndGlyphs">channels seeing a rise in the share of marketers planning</text>
<text x="60" y="369.3" font-size="15.5" fill="#242424" textLength="163.9" lengthAdjust="spacingAndGlyphs">to decrease investment.</text>
<text x="60" y="407.9" font-size="15.5" fill="#242424" textLength="364.9" lengthAdjust="spacingAndGlyphs">CTV moves to the top, with 58% planning to increase</text>
<text x="60" y="429.6" font-size="15.5" fill="#242424" textLength="368.8" lengthAdjust="spacingAndGlyphs">spend—up slightly from 55% from the previous wave.</text>
<text x="60" y="451.3" font-size="15.5" fill="#242424" textLength="380.1" lengthAdjust="spacingAndGlyphs">This modest lift still outpaces every other media type,—</text>
<text x="60" y="472.9" font-size="15.5" fill="#242424" textLength="398.2" lengthAdjust="spacingAndGlyphs">reflecting  continued confidence in CTV’s full-funnel value.</text>
<text x="60" y="494.6" font-size="15.5" fill="#242424" textLength="379.4" lengthAdjust="spacingAndGlyphs">Social Platforms (56%) and Digital Display/Video (52%)</text>
<text x="60" y="516.3" font-size="15.5" fill="#242424" textLength="388.3" lengthAdjust="spacingAndGlyphs">also lead in planned increases, though both saw modest</text>
<text x="60" y="538.0" font-size="15.5" fill="#242424" textLength="205.5" lengthAdjust="spacingAndGlyphs">declines from earlier this year.</text>
<text x="60" y="576.1" font-size="15.5" fill="#242424" textLength="384.3" lengthAdjust="spacingAndGlyphs">Search saw the biggest drop—down 22% vs. H1—likely</text>
<text x="60" y="597.8" font-size="15.5" fill="#242424" textLength="351.0" lengthAdjust="spacingAndGlyphs">tied to Gen AI’s impact on how consumers discover</text>
<text x="60" y="619.5" font-size="15.5" fill="#242424" textLength="150.5" lengthAdjust="spacingAndGlyphs">content and products.</text>
<text x="60" y="658.2" font-size="15.5" fill="#242424" textLength="375.5" lengthAdjust="spacingAndGlyphs">Traditional media held steady, with National and Local</text>
<text x="60" y="679.9" font-size="15.5" fill="#242424" textLength="375.5" lengthAdjust="spacingAndGlyphs">TV showing little change in planned investment. While</text>
<text x="60" y="701.6" font-size="15.5" fill="#242424" textLength="356.3" lengthAdjust="spacingAndGlyphs">not surging, these channels may still offer perceived</text>
<text x="60" y="723.2" font-size="15.5" fill="#242424" textLength="345.8" lengthAdjust="spacingAndGlyphs">stability and proven reach amid digital complexity.</text>
<text x="60" y="760.8" font-size="15.5" fill="#242424" textLength="361.5" lengthAdjust="spacingAndGlyphs">OOH/DOOH and Print held steady with little change,</text>
<text x="60" y="782.5" font-size="15.5" fill="#242424" textLength="340.5" lengthAdjust="spacingAndGlyphs">and while only 25% plan to increase Radio/Audio,</text>
<text x="60" y="804.2" font-size="15.5" fill="#242424" textLength="276.8" lengthAdjust="spacingAndGlyphs">that still marks gain over the prior wave.</text>
<text x="60" y="842.4" font-size="15.5" fill="#242424" textLength="368.5" lengthAdjust="spacingAndGlyphs">Overall, while budgets are tightening, most marketers</text>
<text x="60" y="864.1" font-size="15.5" fill="#242424" textLength="334.2" lengthAdjust="spacingAndGlyphs">continue to maintain or grow spend—pointing to</text>
<text x="60" y="885.8" font-size="15.5" fill="#242424" textLength="165.5" lengthAdjust="spacingAndGlyphs">caution, not contraction.</text>

<text x="60" y="966" font-size="13.5" fill="#1e1e1e">5</text>
<text x="120" y="966" font-size="13.5" fill="#1e1e1e" textLength="120.7" lengthAdjust="spacingAndGlyphs">©2025 Mediaocean</text>
<g transform="translate(1008,940) scale(1.0)">
<path d="M28.8,33.6 C23,34 17,33.6 12.5,31.5 C7.5,29 5.2,23.5 5.2,17 C5.2,10.5 8,6 12,6 C15.6,6 17.7,8.6 17.4,12 C17.1,14.8 15.3,16.8 15.3,20.5 C15.3,27 21,32.2 28.8,33.6 Z" fill="#4a44f0"/>
<path d="M33.2,30.6 C29,31.2 24,31 21,29 C18,27 16.8,23.5 16.8,20 C16.8,15.5 19.3,12 22.8,12 C25.7,12 27.8,14.3 27.7,17 C27.6,19.5 26,21 26,23.5 C26,27 29,29.8 33.2,30.6 Z" fill="#1c8ff0" stroke="#f4f5fc" stroke-width="1"/>
<circle cx="33.2" cy="23.2" r="5.3" fill="#12c0aa" stroke="#f4f5fc" stroke-width="1"/>
</g><text x="1054.5" y="973.5" font-size="37" font-weight="bold" fill="#0b0b3b" textLength="221.5" lengthAdjust="spacingAndGlyphs">mediaocean</text>

</svg>
</body></html>
